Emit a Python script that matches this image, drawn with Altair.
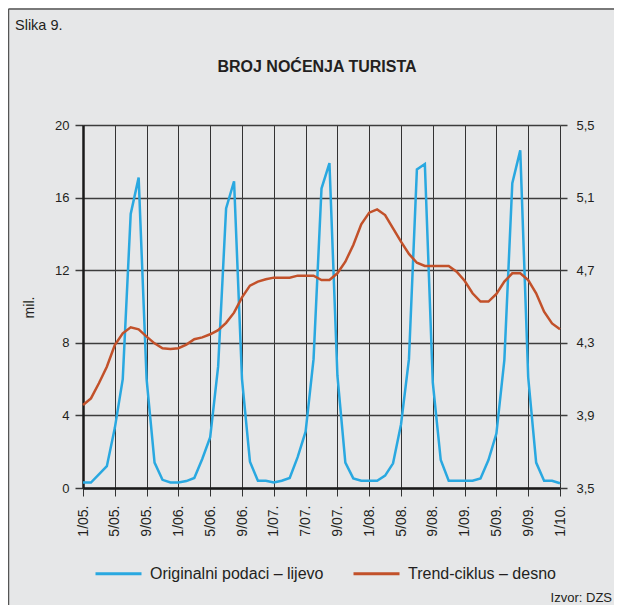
import altair as alt
import pandas as pd

months = list(range(61))
original = [0.3, 0.3, 0.75, 1.2, 3.3, 6.0, 15.1, 17.1, 6.0, 1.4,
            0.45, 0.3, 0.3, 0.38, 0.55, 1.6, 2.8, 6.7, 15.4, 16.9,
            6.0, 1.45, 0.4, 0.4, 0.3, 0.4, 0.55, 1.7, 3.1, 7.1,
            16.5, 17.9, 6.2, 1.4, 0.53, 0.4, 0.4, 0.4, 0.68, 1.36,
            3.5, 7.1, 17.55, 17.85, 5.8, 1.54, 0.4, 0.4, 0.4, 0.4,
            0.53, 1.54, 3.0, 7.05, 16.8, 18.6, 6.1, 1.4, 0.4, 0.4, 0.26]
trend = [3.957, 3.994, 4.077, 4.168, 4.288, 4.352, 4.385, 4.374, 4.334, 4.297,
         4.27, 4.266, 4.27, 4.29, 4.32, 4.33, 4.347, 4.37, 4.41, 4.466,
         4.55, 4.615, 4.637, 4.65, 4.659, 4.659, 4.659, 4.67, 4.67, 4.67,
         4.646, 4.646, 4.683, 4.747, 4.839, 4.953, 5.017, 5.035, 5.004, 4.93,
         4.857, 4.79, 4.741, 4.723, 4.723, 4.723, 4.723, 4.692, 4.642, 4.573,
         4.527, 4.527, 4.569, 4.637, 4.683, 4.683, 4.646, 4.573, 4.471, 4.407, 4.374]
tick_months = list(range(0, 61, 4))
tick_labels = ["1/05.", "5/05.", "9/05.", "1/06.", "5/06.", "9/06.", "1/07.", "7/07.",
               "9/07.", "1/08.", "5/08.", "9/08.", "1/09.", "5/09.", "9/09.", "1/10."]
left_ticks = [0, 4, 8, 12, 16, 20]
right_ticks = [3.5, 3.9, 4.3, 4.7, 5.1, 5.5]
series_names = ["Originalni podaci – lijevo", "Trend-ciklus – desno"]
colors = ["#29a8e0", "#c2512a"]

FONT = "Liberation Sans"
TXT = "#231f20"

df_o = pd.DataFrame({"m": months, "v": original, "s": series_names[0]})
df_t = pd.DataFrame({"m": months, "v": trend, "s": series_names[1]})

label_expr = "[" + ",".join(f"'{l}'" for l in tick_labels) + "][round(datum.value/4)]"

x_enc = alt.X("m:Q", scale=alt.Scale(domain=[0, 60], nice=False, zero=False),
              axis=alt.Axis(values=tick_months, labelExpr=label_expr, labelAngle=270,
                            labelAlign="right", labelBaseline="middle", tickSize=8,
                            labelPadding=9, grid=True, gridColor="#333333", gridWidth=1,
                            gridOpacity=1, domainColor="#1a1a1a", domainWidth=2.5,
                            tickColor="#333333", labelFontSize=14, labelColor=TXT,
                            title=None, labelFont=FONT))

color_enc = alt.Color("s:N", scale=alt.Scale(domain=series_names, range=colors),
                      legend=alt.Legend(orient="none", legendX=11, legendY=424,
                                        direction="horizontal", title=None,
                                        symbolType="stroke", symbolSize=2116,
                                        symbolStrokeWidth=3, labelFontSize=16,
                                        labelOffset=7, columnPadding=23, labelLimit=400,
                                        padding=0, labelColor=TXT, labelFont=FONT))

blue = alt.Chart(df_o).mark_line(strokeWidth=2.5).encode(
    x=x_enc,
    y=alt.Y("v:Q", scale=alt.Scale(domain=[0, 20], nice=False, zero=False),
            axis=alt.Axis(orient="left", values=left_ticks, grid=True, gridColor="#3c3c3c",
                          gridWidth=1.5, gridOpacity=1, tickSize=8, tickColor="#3c3c3c",
                          tickWidth=1.5, labelPadding=6, domainColor="#1a1a1a",
                          domainWidth=2.5, labelFontSize=13, labelColor=TXT,
                          title=None, labelFont=FONT)),
    color=color_enc,
)

red = alt.Chart(df_t).mark_line(strokeWidth=2.5).encode(
    x=x_enc,
    y=alt.Y("v:Q", scale=alt.Scale(domain=[3.5, 5.5], nice=False, zero=False),
            axis=alt.Axis(orient="right", values=right_ticks, grid=False, tickSize=7,
                          tickColor="#3c3c3c", tickWidth=1.5, labelPadding=9,
                          domain=False, labelFontSize=13, labelColor=TXT, title=None,
                          labelFont=FONT,
                          labelExpr="replace(format(datum.value, '.1f'), '.', ',')")),
    color=color_enc,
)

one = pd.DataFrame({"t": ["x"]})


def text(txt, x, y, **kw):
    return alt.Chart(pd.DataFrame({"t": [txt]})).mark_text(font=FONT, color=TXT, **kw).encode(
        x=alt.value(x), y=alt.value(y), text="t:N")


slika = text("Slika 9.", -68, -95, align="left", baseline="alphabetic", fontSize=14.5)
title = text("BROJ NOĆENJA TURISTA", 234, -53.5, align="center", baseline="alphabetic",
             fontSize=16, fontWeight="bold")
mil = text("mil.", -53.5, 182.5, align="center", baseline="middle", fontSize=14, angle=270)
izvor = text("Izvor: DZS", 529, 477, align="right", baseline="alphabetic", fontSize=13)

frame_left = alt.Chart(one).mark_rule(color="#555555", strokeWidth=1.5).encode(
    x=alt.value(-74.5), y=alt.value(-116), y2=alt.value(480))
frame_top = alt.Chart(one).mark_rule(color="#555555", strokeWidth=1.5).encode(
    x=alt.value(-74.5), x2=alt.value(531), y=alt.value(-116))

chart = alt.layer(blue, red, slika, title, mil, izvor, frame_left, frame_top).resolve_scale(
    y="independent"
).properties(
    width=477, height=363,
    autosize=alt.AutoSizeParams(type="none"),
    padding={"left": 75, "top": 117, "right": 54, "bottom": 117},
    background="#e6e7e8",
).configure_view(stroke="transparent").configure(font=FONT)

chart.save("out.html", embed_options={"renderer": "svg", "actions": False})
